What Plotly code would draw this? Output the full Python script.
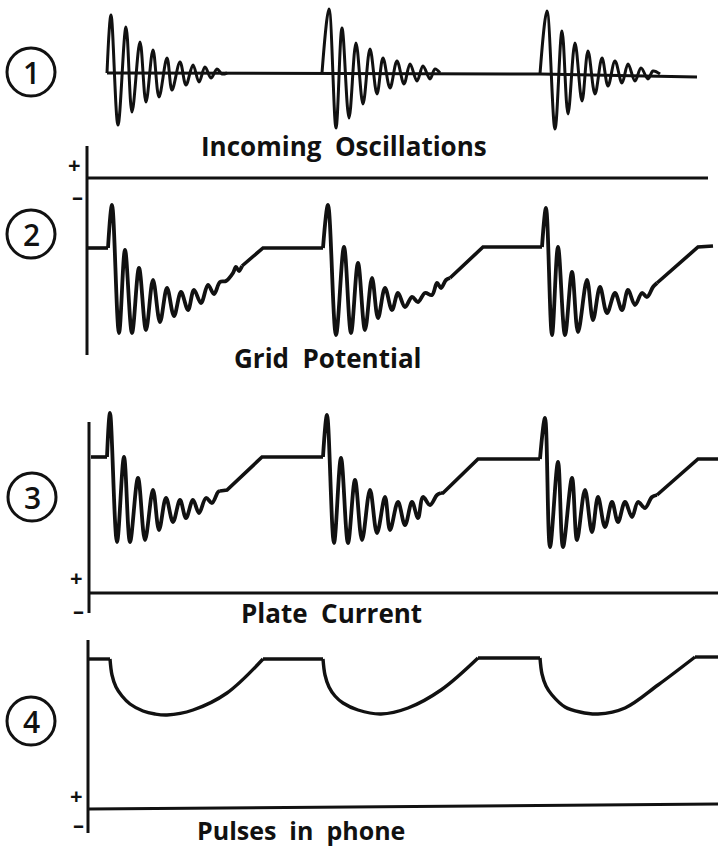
import plotly.graph_objects as go

W, H = 718, 847
INK = "#111111"
FONT = "Open Sans"

# ---------------- Panel 1: incoming oscillations (relative amplitude) ----------------
P1_BASE_X = [107, 540, 697]
P1_BASE_Y = [0, -1, -4]
P1_B1_X = [107, 111, 118, 126, 132, 140, 146, 153, 159, 167, 172, 180, 186, 193, 199, 205, 211, 217, 222, 227]
P1_B1_Y = [0, 58, -52, 46, -39, 31, -29, 23, -24, 15, -17, 11, -12, 8, -9, 6, -5, 4, -1, 0]
P1_B2_X = [322, 329, 336, 342, 349, 356, 363, 370, 377, 383, 390, 397, 404, 410, 417, 423, 430, 435, 440]
P1_B2_Y = [0, 64, -55, 45, -45, 30, -31, 24, -21, 15, -15, 12, -11, 9, -8, 7, -6, 4, 0]
P1_B3_X = [540, 547, 555, 562, 568, 575, 582, 588, 595, 602, 608, 615, 622, 628, 635, 641, 648, 653, 660]
P1_B3_Y = [-1, 62, -56, 42, -41, 30, -28, 22, -21, 15, -13, 12, -10, 9, -8, 5, -6, 2, -1]

# ---------------- Panel 2: grid potential ----------------
P2_LIN_X = [87, 108, None, 242, 263, 323, None, 450, 483, 542, None, 657, 698, 713]
P2_LIN_Y = [-70, -70, None, -88, -70, -70, None, -100, -69, -69, None, -105, -69, -68]
P2_B1_X = [108, 112, 119, 125, 132, 139, 146, 153, 160, 167, 174, 181, 188, 194, 201, 208, 214, 220, 226, 233, 236, 239, 242]
P2_B1_Y = [-70, -27, -155, -72, -155, -90, -152, -102, -144, -110, -138, -114, -132, -112, -125, -107, -116, -104, -103, -95, -89, -93, -88]
P2_B2_X = [323, 328, 336, 344, 351, 358, 365, 372, 378, 385, 392, 398, 405, 412, 418, 425, 432, 437, 441, 446, 450]
P2_B2_Y = [-70, -27, -157, -69, -155, -85, -152, -100, -140, -110, -132, -115, -129, -119, -124, -115, -117, -105, -110, -102, -100]
P2_B3_X = [542, 546, 552, 558, 565, 572, 578, 587, 593, 600, 607, 615, 622, 628, 635, 642, 647, 653, 657]
P2_B3_Y = [-69, -30, -157, -69, -157, -94, -154, -102, -142, -109, -135, -115, -132, -112, -127, -115, -119, -109, -105]

# ---------------- Panel 3: plate current ----------------
P3_LIN_X = [91, 107, None, 220, 227, 262, 323, None, 441, 443, 478, 540, None, 657, 698, 718]
P3_LIN_Y = [136, 136, None, 102, 103, 136, 136, None, 100, 100, 134, 134, None, 98, 134, 134]
P3_B1_X = [107, 110, 117, 124, 130, 138, 145, 153, 159, 166, 173, 180, 186, 193, 199, 206, 212, 218, 220]
P3_B1_Y = [136, 180, 51, 136, 51, 115, 53, 103, 63, 95, 71, 93, 75, 93, 80, 95, 90, 101, 102]
P3_B2_X = [323, 327, 334, 341, 348, 355, 362, 370, 377, 385, 390, 398, 405, 412, 418, 423, 430, 437, 441]
P3_B2_Y = [136, 178, 50, 135, 50, 113, 53, 103, 60, 96, 63, 91, 68, 91, 75, 96, 88, 98, 100]
P3_B3_X = [540, 545, 550, 558, 563, 572, 577, 585, 592, 598, 605, 612, 618, 625, 632, 638, 645, 652, 657]
P3_B3_Y = [134, 175, 46, 131, 46, 115, 53, 103, 61, 96, 66, 91, 71, 91, 76, 91, 85, 96, 98]

# ---------------- Panel 4: pulses in phone ----------------
P4_LIN_X = [88, 110, None, 263, 323, None, 478, 540, None, 695, 718]
P4_LIN_Y = [150, 150, None, 150, 150, None, 151, 151, None, 152, 152]
P4_C1_X = [110, 112, 116, 122, 130, 143, 155, 167, 193, 227, 263]
P4_C1_Y = [150, 134, 122, 113, 105, 98, 95, 94, 99, 116, 150]
P4_C2_X = [323, 325, 329, 335, 343, 358, 381, 408, 441, 478]
P4_C2_Y = [150, 134, 122, 113, 106, 99, 95, 101, 119, 151]
P4_C3_X = [540, 542, 546, 552, 565, 580, 598, 625, 658, 695]
P4_C3_Y = [151, 135, 123, 114, 102, 97, 95, 101, 124, 152]

# ---------------- Axes (zero lines and vertical axes) ----------------
P2_HAX_X = [87, 708]; P2_HAX_Y = [0, 0]
P2_VAX_X = [87, 87]; P2_VAX_Y = [32, -177]
P3_HAX_X = [89, 718]; P3_HAX_Y = [0, 0]
P3_VAX_X = [89, 89]; P3_VAX_Y = [171, -20]
P4_HAX_X = [88, 718]; P4_HAX_Y = [0, 5]
P4_VAX_X = [88, 88]; P4_VAX_Y = [169, -24]

LABELS = ["Incoming  Oscillations", "Grid  Potential", "Plate  Current", "Pulses  in  phone"]
NUMBERS = ["1", "2", "3", "4"]

# panel layout in pixels: (top, bottom, zero-line position)
PANELS = [(0, 140, 73), (140, 380, 178), (380, 635, 593), (635, 847, 809)]

fig = go.Figure()


def add(panel, xs, ys, shape, width):
    sfx = "" if panel == 1 else str(panel)
    fig.add_trace(go.Scatter(
        x=xs, y=ys, mode="lines",
        line=dict(color=INK, width=width, shape=shape, smoothing=1.0),
        xaxis="x" + sfx, yaxis="y" + sfx, hoverinfo="skip", showlegend=False,
        connectgaps=False,
    ))


# panel 1
add(1, P1_BASE_X, P1_BASE_Y, "linear", 3)
for bx, by in [(P1_B1_X, P1_B1_Y), (P1_B2_X, P1_B2_Y), (P1_B3_X, P1_B3_Y)]:
    add(1, bx, by, "spline", 3)

# panel 2
add(2, P2_HAX_X, P2_HAX_Y, "linear", 3)
add(2, P2_VAX_X, P2_VAX_Y, "linear", 3)
add(2, P2_LIN_X, P2_LIN_Y, "linear", 3.6)
for bx, by in [(P2_B1_X, P2_B1_Y), (P2_B2_X, P2_B2_Y), (P2_B3_X, P2_B3_Y)]:
    add(2, bx, by, "spline", 3.8)

# panel 3
add(3, P3_HAX_X, P3_HAX_Y, "linear", 3)
add(3, P3_VAX_X, P3_VAX_Y, "linear", 3)
add(3, P3_LIN_X, P3_LIN_Y, "linear", 3.6)
for bx, by in [(P3_B1_X, P3_B1_Y), (P3_B2_X, P3_B2_Y), (P3_B3_X, P3_B3_Y)]:
    add(3, bx, by, "spline", 3.8)

# panel 4
add(4, P4_HAX_X, P4_HAX_Y, "linear", 3)
add(4, P4_VAX_X, P4_VAX_Y, "linear", 3)
add(4, P4_LIN_X, P4_LIN_Y, "linear", 3.4)
for bx, by in [(P4_C1_X, P4_C1_Y), (P4_C2_X, P4_C2_Y), (P4_C3_X, P4_C3_Y)]:
    add(4, bx, by, "spline", 3.4)

layout = dict(
    width=W, height=H, margin=dict(l=0, r=0, t=0, b=0),
    paper_bgcolor="white", plot_bgcolor="rgba(0,0,0,0)",
    showlegend=False, hovermode=False,
)
for i, (top, bot, zero) in enumerate(PANELS, start=1):
    sfx = "" if i == 1 else str(i)
    layout["xaxis" + sfx] = dict(domain=[0, 1], range=[0, W], visible=False,
                                 anchor="y" + sfx, fixedrange=True)
    layout["yaxis" + sfx] = dict(domain=[1 - bot / H, 1 - top / H],
                                 range=[zero - bot, zero - top], visible=False,
                                 anchor="x" + sfx, fixedrange=True)
fig.update_layout(**layout)


def px(x):
    return x / W


def py(y):
    return 1 - y / H


# circled numbers
CIRCLES = [(31, 72), (31, 234), (32, 497), (31, 721)]
R = 24
for (cx, cy), num in zip(CIRCLES, NUMBERS):
    fig.add_shape(type="circle", xref="paper", yref="paper",
                  x0=px(cx - R), x1=px(cx + R), y0=py(cy + R), y1=py(cy - R),
                  line=dict(color=INK, width=3))
    fig.add_annotation(x=px(cx), y=py(cy), xref="paper", yref="paper", text=num,
                       showarrow=False, xanchor="center", yanchor="middle",
                       font=dict(family=FONT, size=30, color=INK, weight=600))

# captions
CAPTION_POS = [(344, 146), (328, 358), (331, 613), (301, 830)]
CAPTION_SIZE = [26, 26, 26, 25]
for (cx, cy), txt, fs in zip(CAPTION_POS, LABELS, CAPTION_SIZE):
    fig.add_annotation(x=px(cx), y=py(cy), xref="paper", yref="paper", text=txt,
                       showarrow=False, xanchor="center", yanchor="middle",
                       font=dict(family=FONT, size=fs, color=INK, weight=700))

# +/- signs near axes
SIGNS = [("+", 74, 164), ("\u2013", 77, 196), ("+", 76, 577), ("\u2013", 78, 610),
         ("+", 76, 795), ("\u2013", 78, 824)]
for s, sx, sy in SIGNS:
    fig.add_annotation(x=px(sx), y=py(sy), xref="paper", yref="paper", text=s,
                       showarrow=False, xanchor="center", yanchor="middle",
                       borderpad=0,
                       font=dict(family=FONT, size=22, color=INK, weight=700))

fig.write_html("out.html", config={"displayModeBar": False, "staticPlot": True},
               post_script="document.body.style.margin='0';"
                           "document.body.style.overflow='hidden';")
